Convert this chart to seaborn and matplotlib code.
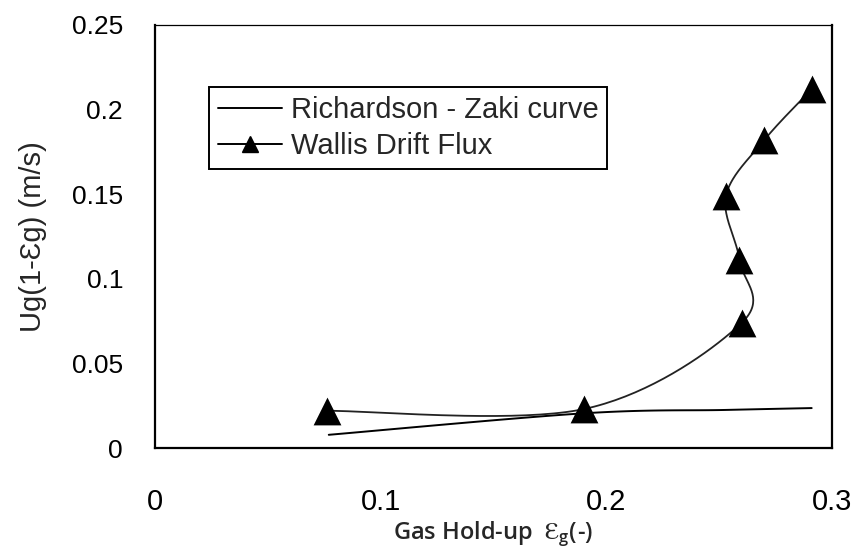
import numpy as np
import pandas as pd
import matplotlib
matplotlib.use("Agg")
import matplotlib.pyplot as plt
from matplotlib.lines import Line2D
import seaborn as sns

# Wallis drift-flux points (gas hold-up, superficial slip flux Ug(1-eg))
wallis_holdup = [0.076, 0.190, 0.260, 0.259, 0.253, 0.270, 0.291]
wallis_flux = [0.022, 0.023, 0.074, 0.111, 0.149, 0.182, 0.212]

# Richardson-Zaki curve
rz_holdup = [0.077, 0.190, 0.253, 0.291]
rz_flux = [0.0078, 0.0205, 0.0225, 0.0236]

x_ticks = [0, 0.1, 0.2, 0.3]
x_tick_labels = ["0", "0.1", "0.2", "0.3"]
y_ticks = [0, 0.05, 0.1, 0.15, 0.2, 0.25]
y_tick_labels = ["0", "0.05", "0.1", "0.15", "0.2", "0.25"]

X_MAX, Y_MAX = 0.3, 0.25


def smooth(xs, ys, n=40, sx=677.0, sy=423.0):
    """Cardinal Bezier smoothing (Catmull-Rom style) done in screen-like units."""
    p = np.column_stack([np.asarray(xs) / X_MAX * sx, np.asarray(ys) / Y_MAX * sy])
    pts = [p[0]] + list(p) + [p[-1]]
    out = []
    t = np.linspace(0, 1, n)[:, None]
    for i in range(1, len(pts) - 2):
        p0, p1, p2, p3 = pts[i - 1], pts[i], pts[i + 1], pts[i + 2]
        c1 = p1 + (p2 - p0) / 6.0
        c2 = p2 - (p3 - p1) / 6.0
        seg = ((1 - t) ** 3) * p1 + 3 * ((1 - t) ** 2) * t * c1 + 3 * (1 - t) * t ** 2 * c2 + t ** 3 * p2
        out.append(seg if i == 1 else seg[1:])
    out = np.vstack(out)
    return out[:, 0] / sx * X_MAX, out[:, 1] / sy * Y_MAX


sns.set_theme(style="white")
plt.rcParams["font.family"] = ["Liberation Sans", "DejaVu Sans"]
plt.rcParams["mathtext.fontset"] = "custom"
plt.rcParams["mathtext.rm"] = "Liberation Sans"
plt.rcParams["mathtext.it"] = "Liberation Sans"

fig = plt.figure(figsize=(8.56, 5.58), dpi=100)
ax = fig.add_axes([155 / 856, 1 - 448 / 558, (832 - 155) / 856, (448 - 25) / 558])

wx, wy = smooth(wallis_holdup, wallis_flux)
rx, ry = smooth(rz_holdup, rz_flux)

wallis_curve = pd.DataFrame({"holdup": wx, "flux": wy})
rz_curve = pd.DataFrame({"holdup": rx, "flux": ry})
wallis_pts = pd.DataFrame({"holdup": wallis_holdup, "flux": wallis_flux})

sns.lineplot(data=rz_curve, x="holdup", y="flux", sort=False, estimator=None,
             color="black", lw=1.4, ax=ax)
sns.lineplot(data=wallis_curve, x="holdup", y="flux", sort=False, estimator=None,
             color="#222222", lw=1.3, ax=ax)
sns.scatterplot(data=wallis_pts, x="holdup", y="flux", marker="^", s=20 ** 2,
                color="black", edgecolor="black", linewidth=0, ax=ax, zorder=5)

ax.set_xlim(0, X_MAX)
ax.set_ylim(0, Y_MAX)
ax.set_xticks(x_ticks)
ax.set_xticklabels(x_tick_labels, fontsize=21)
ax.set_yticks(y_ticks)
ax.set_yticklabels(y_tick_labels, fontsize=19)
ax.tick_params(axis="y", direction="out", length=6, width=1.5, pad=17, colors="black")
ax.tick_params(axis="x", direction="out", length=9, width=1.5, pad=20, colors="black")

for side in ["left", "bottom", "right"]:
    ax.spines[side].set_linewidth(1.6)
    ax.spines[side].set_color("black")
ax.spines["top"].set_linewidth(0.9)
ax.spines["top"].set_color("black")

ax.set_xlabel("Gas Hold-up  $\\mathregular{Ɛ_g}$(-)", fontsize=17,
              family=["Open Sans", "DejaVu Sans"], fontweight="semibold", labelpad=2)
ax.set_ylabel("Ug(1-Ɛg) (m/s)", fontsize=21, labelpad=18)

handles = [
    Line2D([], [], color="black", lw=1.4),
    Line2D([], [], color="black", lw=1.4, marker="^", markersize=11),
]
leg = ax.legend(handles, ["Richardson - Zaki curve", "Wallis Drift Flux"],
                loc="upper left", bbox_to_anchor=((209 - 155) / 677, (448 - 87) / 423),
                fontsize=21, frameon=True, fancybox=False, framealpha=1,
                edgecolor="black", borderpad=0.3, labelspacing=0.3,
                handlelength=2.2, handletextpad=0.3, borderaxespad=0)
leg.get_frame().set_linewidth(1.4)

fig.savefig("out.png", dpi=100)
